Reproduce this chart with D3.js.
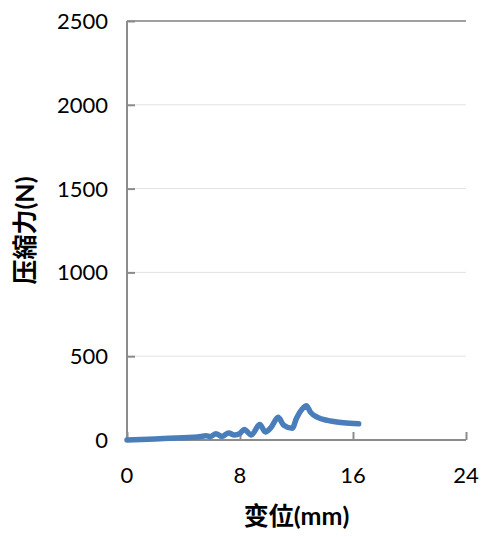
<!DOCTYPE html>
<html>
<head>
<meta charset="utf-8">
<script src="https://cdn.jsdelivr.net/npm/d3@7"></script>
<style>
  html, body { margin: 0; padding: 0; background: #fff; }
  svg { display: block; }
</style>
</head>
<body>
<svg id="chart" width="482" height="537"></svg>
<script>
// Displacement (mm) and compressive force (N) readings
const displacement = [0, 1, 2, 3, 4, 5, 5.6, 5.9, 6.3, 6.7, 7.2, 7.6, 8.0, 8.3, 8.8, 9.4, 9.8, 10.2, 10.7, 11.1, 11.7, 12.0, 12.4, 12.7, 13.0, 13.5, 14.2, 15.0, 15.8, 16.4];
const force =        [0, 3, 6, 10, 14, 18, 25, 20, 38, 22, 42, 30, 40, 62, 30, 92, 48, 75, 135, 88, 70, 130, 185, 205, 165, 135, 117, 106, 100, 97];

const xTicks = [0, 8, 16, 24];
const yTicks = [0, 500, 1000, 1500, 2000, 2500];
const xTitle = "变位(mm)";
const yTitle = "压縮力(N)";

const margin = { left: 127, right: 16, top: 21, bottom: 97 };
const W = 482, H = 537;
const svg = d3.select("#chart");

const x = d3.scaleLinear().domain([0, 24]).range([margin.left, W - margin.right]);
const y = d3.scaleLinear().domain([0, 2500]).range([H - margin.bottom, margin.top]);

const axisColor = "#8c8c8c";
const latin = "Lato, 'Noto Sans', sans-serif";
const titleFont = "Lato, 'Noto Sans CJK JP', 'Noto Sans CJK SC', sans-serif";

// faint horizontal gridlines, top border at full strength
svg.append("g")
  .selectAll("line")
  .data(yTicks.filter(d => d > 0))
  .join("line")
  .attr("x1", x(0)).attr("x2", x(24))
  .attr("y1", d => y(d)).attr("y2", d => y(d))
  .attr("stroke", d => d === 2500 ? "#a0a0a0" : "#e2e2e2")
  .attr("stroke-width", d => d === 2500 ? 2 : 1);

// y axis
const yAxis = svg.append("g")
  .attr("transform", `translate(${x(0)},0)`)
  .call(d3.axisRight(y).tickValues(yTicks).tickSize(8).tickFormat(""));
yAxis.select(".domain").remove();
yAxis.selectAll(".tick line").attr("stroke", axisColor).attr("stroke-width", 2);
svg.append("line")
  .attr("x1", x(0)).attr("x2", x(0))
  .attr("y1", y(0) + 1).attr("y2", y(2500))
  .attr("stroke", axisColor).attr("stroke-width", 2);

svg.append("g")
  .selectAll("text")
  .data(yTicks)
  .join("text")
  .attr("x", 108)
  .attr("y", d => y(d))
  .attr("dy", "0.36em")
  .attr("text-anchor", "end")
  .attr("font-family", latin)
  .attr("font-size", 22)
  .attr("fill", "#000")
  .text(d => d);

// x axis
const xAxis = svg.append("g")
  .attr("transform", `translate(0,${y(0)})`)
  .call(d3.axisTop(x).tickValues(xTicks).tickSize(8).tickFormat(""));
xAxis.select(".domain").remove();
xAxis.selectAll(".tick line").attr("stroke", axisColor).attr("stroke-width", 2);
svg.append("line")
  .attr("x1", x(0) - 1).attr("x2", x(24))
  .attr("y1", y(0)).attr("y2", y(0))
  .attr("stroke", axisColor).attr("stroke-width", 2);

svg.append("g")
  .selectAll("text")
  .data(xTicks)
  .join("text")
  .attr("x", d => x(d))
  .attr("y", 483)
  .attr("text-anchor", "middle")
  .attr("font-family", latin)
  .attr("font-size", 22)
  .attr("fill", "#000")
  .text(d => d);

// data line
const pts = displacement.map((d, i) => [d, force[i]]);
svg.append("path")
  .datum(pts)
  .attr("fill", "none")
  .attr("stroke", "#4a7ebb")
  .attr("stroke-width", 5.5)
  .attr("stroke-linecap", "round")
  .attr("stroke-linejoin", "round")
  .attr("d", d3.line().x(d => x(d[0])).y(d => y(d[1])).curve(d3.curveMonotoneX));

// axis titles
svg.append("text")
  .attr("x", (x(0) + x(24)) / 2)
  .attr("y", 525)
  .attr("text-anchor", "middle")
  .attr("font-family", titleFont)
  .attr("font-weight", "bold")
  .attr("font-size", 25)
  .attr("fill", "#000")
  .text(xTitle);

svg.append("text")
  .attr("transform", `translate(34,${(y(0) + y(2500)) / 2}) rotate(-90)`)
  .attr("text-anchor", "middle")
  .attr("font-family", titleFont)
  .attr("font-weight", "bold")
  .attr("font-size", 25)
  .attr("fill", "#000")
  .text(yTitle);
</script>
</body>
</html>
